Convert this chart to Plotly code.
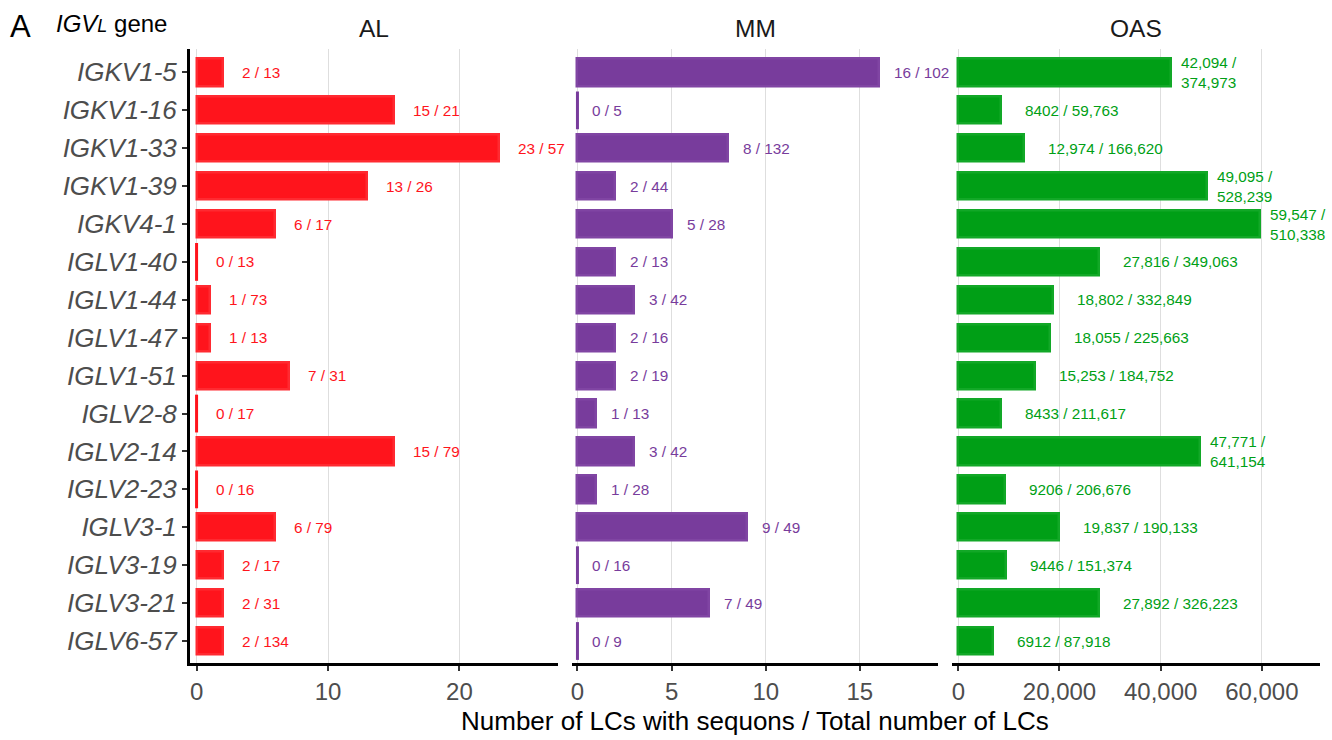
import plotly.graph_objects as go

# IGVL genes, top to bottom
genes = ["IGKV1-5", "IGKV1-16", "IGKV1-33", "IGKV1-39", "IGKV4-1", "IGLV1-40",
         "IGLV1-44", "IGLV1-47", "IGLV1-51", "IGLV2-8", "IGLV2-14", "IGLV2-23",
         "IGLV3-1", "IGLV3-19", "IGLV3-21", "IGLV6-57"]

# light chains carrying sequons / total light chains, per cohort
al_sequon = [2, 15, 23, 13, 6, 0, 1, 1, 7, 0, 15, 0, 6, 2, 2, 2]
al_total = [13, 21, 57, 26, 17, 13, 73, 13, 31, 17, 79, 16, 79, 17, 31, 134]

mm_sequon = [16, 0, 8, 2, 5, 2, 3, 2, 2, 1, 3, 1, 9, 0, 7, 0]
mm_total = [102, 5, 132, 44, 28, 13, 42, 16, 19, 13, 42, 28, 49, 16, 49, 9]

oas_sequon = [42094, 8402, 12974, 49095, 59547, 27816, 18802, 18055, 15253,
              8433, 47771, 9206, 19837, 9446, 27892, 6912]
oas_total = [374973, 59763, 166620, 528239, 510338, 349063, 332849, 225663,
             184752, 211617, 641154, 206676, 190133, 151374, 326223, 87918]

panel_names = ["AL", "MM", "OAS"]
panel_ticks = [[0, 10, 20], [0, 5, 10, 15], [0, 20000, 40000, 60000]]

FONT = "Liberation Sans, Arial, sans-serif"
W, H = 1332, 740


def fmt(n):
    return f"{n:,}" if n >= 10000 else str(n)


def make_label(k, n, wrap_at=None):
    if wrap_at is not None and k >= wrap_at:
        return f"{fmt(k)} /<br>{fmt(n)}", True
    return f"{fmt(k)} / {fmt(n)}", False


panels = [
    dict(name=panel_names[0], k=al_sequon, n=al_total, color="#FF141C",
         edge="#FF2A31", xa="x", rng=[-0.5, 27.5], dom=[190, 558], wrap=None,
         gap=17),
    dict(name=panel_names[1], k=mm_sequon, n=mm_total, color="#783C9C",
         edge="#8045A3", xa="x2", rng=[-0.29, 19.15], dom=[572, 938], wrap=None,
         gap=13),
    dict(name=panel_names[2], k=oas_sequon, n=oas_total, color="#009F16",
         edge="#12A827", xa="x3", rng=[-1250, 71500], dom=[952, 1320],
         wrap=40000, gap=22),
]

fig = go.Figure()
annotations = []

for p, ticks in zip(panels, panel_ticks):
    nonzero = [(g, v) for g, v in zip(genes, p["k"]) if v > 0]
    zero = [g for g, v in zip(genes, p["k"]) if v == 0]
    fig.add_trace(go.Bar(
        y=[g for g, _ in nonzero], x=[v for _, v in nonzero],
        orientation="h", width=0.72, xaxis=p["xa"], yaxis="y",
        marker=dict(color=p["color"], line=dict(color=p["edge"], width=2.5)),
        showlegend=False, hoverinfo="skip",
    ))
    if zero:
        # zero counts still show as a thin outline at the origin
        fig.add_trace(go.Scatter(
            y=zero, x=[0] * len(zero), mode="markers", xaxis=p["xa"], yaxis="y",
            marker=dict(symbol="line-ns", size=27,
                        line=dict(color=p["color"], width=3)),
            showlegend=False, hoverinfo="skip",
        ))
    for g, k, n in zip(genes, p["k"], p["n"]):
        text, wrapped = make_label(k, n, p["wrap"])
        annotations.append(dict(
            x=k, y=g, xref=p["xa"], yref="y", xanchor="left", yanchor="middle",
            xshift=8 if wrapped else p["gap"], text=text, showarrow=False,
            align="left", font=dict(family=FONT, size=15.3, color=p["color"]),
        ))
    # panel strip title
    annotations.append(dict(
        x=(p["dom"][0] + p["dom"][1]) / 2 / W, y=1 - 28 / H, xref="paper",
        yref="paper", text=p["name"], showarrow=False, xanchor="center",
        yanchor="middle", font=dict(family=FONT, size=24.5, color="#1A1A1A"),
    ))

y_bottom, y_top = 663, 48.5
ydom = [(H - y_bottom) / H, (H - y_top) / H]

axis_common = dict(
    showline=True, linecolor="black", linewidth=3, ticks="outside", ticklen=5,
    tickwidth=2, tickcolor="#333333", showgrid=True, gridcolor="#DEDEDE",
    gridwidth=1, zeroline=False,
    tickfont=dict(family=FONT, size=24, color="#4D4D4D"),
)

layout_axes = {}
for i, (p, ticks) in enumerate(zip(panels, panel_ticks)):
    key = "xaxis" if i == 0 else f"xaxis{i + 1}"
    layout_axes[key] = dict(
        axis_common, domain=[p["dom"][0] / W, p["dom"][1] / W], range=p["rng"],
        tickvals=ticks, tickformat=",", anchor="y",
    )

layout_axes["yaxis"] = dict(
    domain=ydom, anchor="x", type="category", categoryorder="array",
    categoryarray=genes, range=[15.58, -0.63], showline=True, linecolor="black",
    linewidth=3, ticks="outside", ticklen=5, tickwidth=2, tickcolor="#333333",
    showgrid=False, zeroline=False,
    tickfont=dict(family=FONT, size=26, color="#4D4D4D", style="italic"),
)

annotations += [
    dict(x=8 / W, y=1 - 27 / H, xref="paper", yref="paper", text="A",
         showarrow=False, xanchor="left", yanchor="middle",
         font=dict(family=FONT, size=31, color="black")),
    dict(x=54 / W, y=1 - 23 / H, xref="paper", yref="paper",
         text="<i>IGV</i><i><span style='font-size:18px'>L</span></i> gene",
         showarrow=False, xanchor="left", yanchor="middle",
         font=dict(family=FONT, size=24, color="black")),
    dict(x=755 / W, y=1 - 721 / H, xref="paper", yref="paper",
         text="Number of LCs with sequons / Total number of LCs",
         showarrow=False, xanchor="center", yanchor="middle",
         font=dict(family=FONT, size=26, color="black")),
]

fig.update_layout(
    width=W, height=H, margin=dict(l=0, r=0, t=0, b=0),
    paper_bgcolor="white", plot_bgcolor="white", bargap=0,
    annotations=annotations, **layout_axes,
)

fig.write_html("out.html")
